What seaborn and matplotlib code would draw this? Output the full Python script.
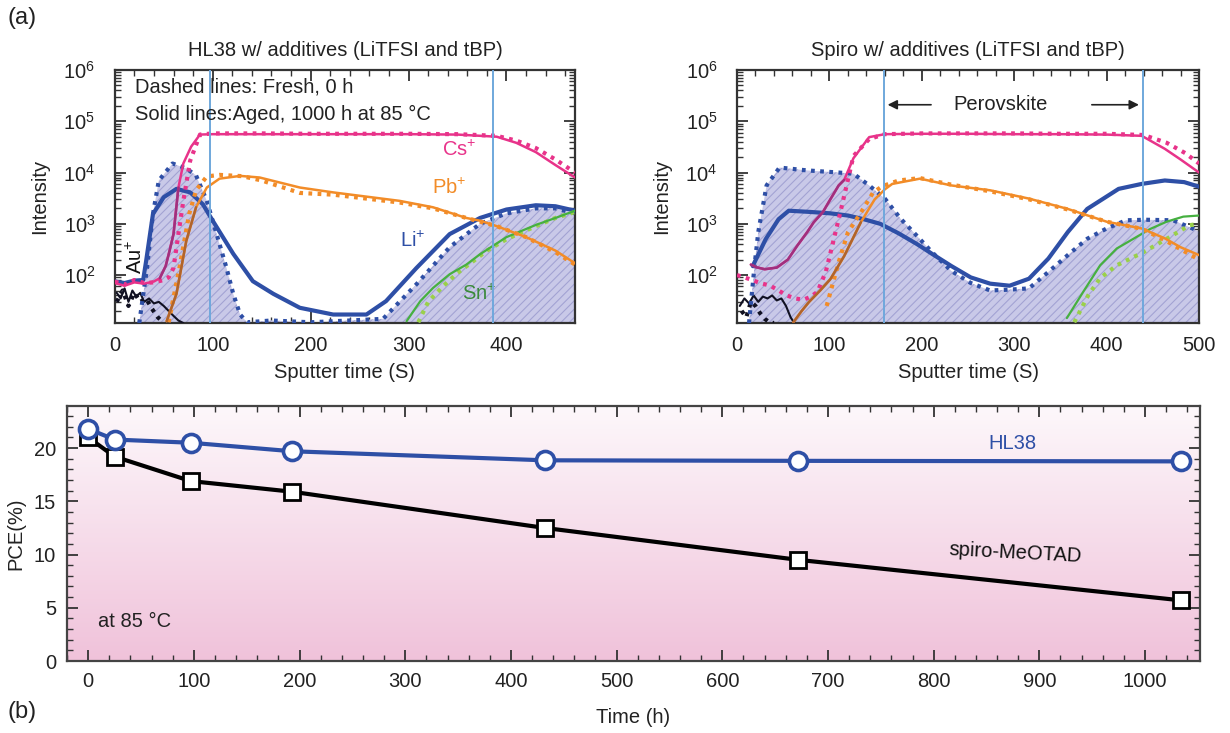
import numpy as np
import pandas as pd
import matplotlib
matplotlib.use('Agg')
import matplotlib.pyplot as plt
import seaborn as sns
from matplotlib.ticker import LogLocator, MultipleLocator, NullFormatter
from matplotlib.colors import LinearSegmentedColormap

# ---------------- data: HL38 panel (sputter time s, intensity) ----------------
hl_cs_aged_t = [0, 10, 20, 30, 40, 46, 52, 56, 60, 65, 70, 78, 87, 100, 150, 200, 250, 300, 350, 390, 410, 430, 450, 470]
hl_cs_aged_i = [70, 62, 72, 68, 75, 87, 150, 300, 630, 5100, 15000, 32000, 55000, 56000, 56000, 56000, 56000, 56000, 55000, 50000, 38000, 25000, 14000, 8000]
hl_cs_fresh_t = [0, 10, 20, 30, 40, 50, 55, 60, 65, 70, 77, 87, 100, 150, 200, 250, 300, 350, 390, 410, 430, 450, 470]
hl_cs_fresh_i = [75, 65, 80, 70, 72, 80, 90, 137, 630, 2800, 17000, 55000, 58000, 58000, 57000, 57000, 57000, 56000, 52000, 42000, 30000, 18000, 10000]
hl_pb_aged_t = [53, 63, 73, 83, 94, 107, 128, 148, 189, 223, 291, 325, 359, 373, 390, 420, 450, 470]
hl_pb_aged_i = [12.6, 43, 460, 2100, 5100, 7600, 8600, 8000, 5100, 4100, 2800, 2100, 1300, 1150, 900, 550, 300, 170]
hl_pb_fresh_t = [55, 66, 76, 83, 94, 107, 130, 150, 189, 223, 291, 325, 359, 390, 420, 450, 470]
hl_pb_fresh_i = [12, 137, 1550, 4500, 8400, 9000, 8500, 7000, 4000, 3700, 2600, 2000, 1300, 900, 550, 280, 160]
hl_li_aged_t = [0, 10, 20, 29, 32, 39, 50, 63, 77, 90, 100, 121, 141, 162, 189, 223, 257, 277, 308, 342, 373, 400, 430, 450, 470]
hl_li_aged_i = [75, 70, 78, 80, 186, 1550, 3300, 4800, 4100, 2400, 1150, 260, 76, 43, 23, 17, 17, 31, 137, 630, 1300, 1900, 2300, 2200, 1800]
hl_li_fresh_t = [25, 33, 39, 45, 59, 73, 83, 94, 104, 114, 121, 128, 135, 160, 200, 240, 274, 308, 342, 373, 400, 430, 450, 470]
hl_li_fresh_i = [11.6, 140, 1550, 7000, 15000, 12000, 8800, 2800, 630, 140, 43, 17, 12, 13, 12, 13, 14, 66, 350, 1000, 1600, 2000, 2000, 1600]
hl_sn_aged_t = [298, 312, 325, 342, 359, 373, 400, 430, 450, 470]
hl_sn_aged_i = [12.6, 31, 56, 104, 160, 255, 550, 950, 1300, 1800]
hl_sn_fresh_t = [310, 320, 335, 350, 365, 380, 400, 430, 450, 470]
hl_sn_fresh_i = [12, 30, 60, 110, 180, 300, 500, 900, 1300, 1700]
hl_au_aged_t = [2, 6, 10, 14, 18, 22, 26, 30, 35, 40, 45, 50, 55, 60, 65, 70]
hl_au_aged_i = [45, 35, 55, 30, 50, 38, 45, 30, 35, 28, 30, 25, 20, 16, 13, 11.6]
hl_au_fresh_t = [2, 8, 14, 20, 26, 32, 38, 44, 50]
hl_au_fresh_i = [30, 50, 25, 45, 30, 35, 22, 15, 11.6]
hl_vlines = [97, 386]

# ---------------- data: Spiro panel ----------------
sp_cs_aged_t = [15, 21, 30, 43, 55, 65, 76, 83, 93, 101, 110, 116, 126, 143, 160, 200, 250, 300, 350, 400, 438, 463, 480, 500]
sp_cs_aged_i = [160, 142, 130, 140, 200, 370, 690, 1070, 1700, 3000, 5600, 7200, 19000, 49000, 56000, 57000, 57000, 56000, 56000, 55000, 52000, 29000, 18000, 10000]
sp_cs_fresh_t = [0, 14, 25, 36, 45, 54, 63, 72, 80, 87, 96, 103, 110, 118, 126, 143, 160, 200, 250, 300, 350, 400, 440, 465, 485, 500]
sp_cs_fresh_i = [100, 83, 70, 62, 50, 40, 35, 33, 38, 47, 115, 370, 1230, 5000, 21000, 45000, 56000, 58000, 58000, 58000, 57000, 57000, 54000, 38000, 24000, 15000]
sp_pb_aged_t = [61, 70, 78, 90, 101, 116, 134, 149, 160, 168, 198, 232, 274, 316, 358, 400, 438, 463, 480, 500]
sp_pb_aged_i = [12, 20, 30, 50, 83, 235, 1070, 3000, 4700, 6000, 7600, 5600, 4500, 3100, 1950, 1100, 810, 520, 350, 245]
sp_pb_fresh_t = [97, 110, 120, 134, 147, 157, 175, 198, 232, 274, 316, 358, 400, 438, 463, 480, 500]
sp_pb_fresh_i = [25, 178, 680, 1650, 4000, 5400, 7000, 7800, 5800, 4300, 3000, 1900, 1100, 800, 480, 320, 200]
sp_li_aged_t = [17, 31, 45, 56, 80, 101, 120, 137, 155, 175, 195, 211, 232, 253, 274, 295, 316, 337, 358, 379, 413, 438, 463, 484, 500]
sp_li_aged_i = [150, 500, 1230, 1800, 1700, 1600, 1450, 1230, 1000, 650, 400, 260, 150, 90, 68, 62, 85, 210, 690, 1950, 4800, 6000, 7000, 6500, 5300]
sp_li_fresh_t = [13, 19, 23, 32, 46, 76, 110, 126, 143, 160, 177, 194, 211, 232, 253, 274, 295, 316, 337, 358, 379, 400, 421, 442, 472, 493, 500]
sp_li_fresh_i = [11.6, 155, 690, 5600, 12500, 11000, 10000, 9500, 5600, 3100, 1260, 600, 280, 120, 70, 50, 52, 55, 115, 245, 510, 810, 1170, 1200, 1170, 810, 700]
sp_sn_aged_t = [357, 375, 393, 411, 429, 447, 465, 483, 500]
sp_sn_aged_i = [14.5, 48, 155, 330, 510, 790, 1100, 1380, 1450]
sp_sn_fresh_t = [365, 380, 393, 411, 440, 465, 490, 500]
sp_sn_fresh_i = [12, 40, 87, 155, 280, 510, 940, 1000]
sp_au_aged_t = [3, 8, 13, 18, 23, 28, 33, 38, 43, 48, 53, 58, 62]
sp_au_aged_i = [25, 35, 28, 40, 30, 38, 35, 40, 32, 35, 25, 15, 11.6]
sp_au_fresh_t = [5, 10, 15, 20, 25, 30, 35, 40]
sp_au_fresh_i = [20, 15, 30, 25, 18, 14, 12, 11.6]
sp_vlines = [159, 439]

# ---------------- data: PCE vs time ----------------
hours = [0, 25, 97, 193, 432, 672, 1034]
pce_hl38 = [21.8, 20.8, 20.5, 19.7, 18.85, 18.8, 18.75]
pce_spiro = [21.0, 19.2, 16.9, 15.9, 12.5, 9.5, 5.7]

# ---------------- style ----------------
sns.set_theme(style='ticks')
plt.rcParams['font.family'] = ['Liberation Sans', 'DejaVu Sans']
plt.rcParams['mathtext.fontset'] = 'custom'
plt.rcParams['mathtext.rm'] = 'Liberation Sans'
plt.rcParams['mathtext.it'] = 'Liberation Sans:italic'
plt.rcParams['hatch.color'] = '#a3a3d3'
plt.rcParams['hatch.linewidth'] = 0.8

C_CS = '#e8338a'
C_PURPLE = '#a0307e'
C_PB = '#f28c28'
C_BROWN = '#b0642c'
C_LI = '#2e4fa6'
C_SN = '#46b040'
C_SN_F = '#9ad04a'
C_SN_TXT = '#3a8a3a'
C_AU = '#111122'
C_VL = '#6fa8dc'
FS = 14.5

fig = plt.figure(figsize=(12.3, 7.33), dpi=100)
axL = fig.add_axes([0.0933, 0.5593, 0.3742, 0.3452])
axR = fig.add_axes([0.5992, 0.5593, 0.3756, 0.3452])
axB = fig.add_axes([0.0545, 0.0982, 0.9211, 0.3479])


def ln(ax, t, i, color, fresh=False, lw=1.8, z=3):
    if fresh:
        sns.lineplot(x=t, y=i, ax=ax, color=color, lw=3.0, linestyle=(0, (0.9, 1.3)),
                     dash_capstyle='butt', sort=False, estimator=None, legend=False, zorder=z)
    else:
        sns.lineplot(x=t, y=i, ax=ax, color=color, lw=lw, sort=False, estimator=None,
                     legend=False, zorder=z)


def sims_panel(ax, d, vlines, xmax, title):
    ax.set_yscale('log')
    ymin = 11.6
    # fresh Li fill
    ax.fill_between(d['li_f'][0], ymin, d['li_f'][1], facecolor='#c9c9e8', edgecolor='#a3a3d3',
                    hatch='////', linewidth=0, zorder=1)
    ln(ax, *d['au_f'], C_AU, fresh=True)
    ln(ax, *d['au_a'], C_AU, lw=1.5)
    ln(ax, *d['li_f'], C_LI, fresh=True)
    ln(ax, *d['li_a'], C_LI, lw=3.0)
    ln(ax, *d['sn_f'], C_SN_F, fresh=True)
    ln(ax, *d['sn_a'], C_SN, lw=1.6)
    ln(ax, *d['pb_f'], C_PB, fresh=True)
    ln(ax, *d['pb_a'], C_PB, lw=1.8)
    n = d['pb_brown']
    ln(ax, d['pb_a'][0][:n], d['pb_a'][1][:n], C_BROWN, lw=1.8, z=4)
    ln(ax, *d['cs_f'], C_CS, fresh=True)
    ln(ax, *d['cs_a'], C_CS, lw=1.8)
    a, b = d['cs_purple']
    ln(ax, d['cs_a'][0][a:b], d['cs_a'][1][a:b], C_PURPLE, lw=1.8, z=4)
    for v in vlines:
        ax.axvline(v, color=C_VL, lw=1.4, zorder=5)
    ax.set_xlim(0, xmax)
    ax.set_ylim(ymin, 1e6)
    ax.yaxis.set_major_locator(LogLocator(base=10, numticks=10))
    ax.yaxis.set_minor_locator(LogLocator(base=10, subs=np.arange(2, 10), numticks=20))
    ax.yaxis.set_minor_formatter(NullFormatter())
    ax.xaxis.set_major_locator(MultipleLocator(100))
    ax.xaxis.set_minor_locator(MultipleLocator(20))
    ax.tick_params(which='both', direction='in', top=True, right=True, color='#333333',
                   labelsize=FS, labelcolor='#222222')
    ax.tick_params(which='major', length=8, width=1.3, pad=9)
    ax.tick_params(which='minor', length=4, width=1.0)
    ax.tick_params(axis='y', which='major', pad=14)
    for s in ax.spines.values():
        s.set_linewidth(1.6)
        s.set_color('#333333')
    ax.set_xlabel('Sputter time (S)', fontsize=FS, color='#222222', labelpad=6)
    ax.set_ylabel('Intensity', fontsize=FS, color='#222222', labelpad=10)
    ax.set_title(title, fontsize=FS, color='#222222', pad=10)


hl = dict(cs_a=(hl_cs_aged_t, hl_cs_aged_i), cs_f=(hl_cs_fresh_t, hl_cs_fresh_i),
          pb_a=(hl_pb_aged_t, hl_pb_aged_i), pb_f=(hl_pb_fresh_t, hl_pb_fresh_i),
          li_a=(hl_li_aged_t, hl_li_aged_i), li_f=(hl_li_fresh_t, hl_li_fresh_i),
          sn_a=(hl_sn_aged_t, hl_sn_aged_i), sn_f=(hl_sn_fresh_t, hl_sn_fresh_i),
          au_a=(hl_au_aged_t, hl_au_aged_i), au_f=(hl_au_fresh_t, hl_au_fresh_i),
          pb_brown=4, cs_purple=(5, 10))
sp = dict(cs_a=(sp_cs_aged_t, sp_cs_aged_i), cs_f=(sp_cs_fresh_t, sp_cs_fresh_i),
          pb_a=(sp_pb_aged_t, sp_pb_aged_i), pb_f=(sp_pb_fresh_t, sp_pb_fresh_i),
          li_a=(sp_li_aged_t, sp_li_aged_i), li_f=(sp_li_fresh_t, sp_li_fresh_i),
          sn_a=(sp_sn_aged_t, sp_sn_aged_i), sn_f=(sp_sn_fresh_t, sp_sn_fresh_i),
          au_a=(sp_au_aged_t, sp_au_aged_i), au_f=(sp_au_fresh_t, sp_au_fresh_i),
          pb_brown=7, cs_purple=(0, 12))

sims_panel(axL, hl, hl_vlines, 470, 'HL38 w/ additives (LiTFSI and tBP)')
sims_panel(axR, sp, sp_vlines, 500, 'Spiro w/ additives (LiTFSI and tBP)')

# annotations left
axL.text(21, 4.7e5, 'Dashed lines: Fresh, 0 h', fontsize=FS, va='center', color='#222222', zorder=6)
axL.text(21, 1.35e5, 'Solid lines:Aged, 1000 h at 85 °C', fontsize=FS, va='center', color='#222222', zorder=6)
axL.text(352, 2.7e4, 'Cs$^{+}$', color=C_CS, fontsize=FS, ha='center', va='center')
axL.text(342, 4900, 'Pb$^{+}$', color=C_PB, fontsize=FS, ha='center', va='center')
axL.text(304, 460, 'Li$^{+}$', color=C_LI, fontsize=FS, ha='center', va='center')
axL.text(372, 43, 'Sn$^{+}$', color=C_SN_TXT, fontsize=FS, ha='center', va='center')
axL.text(22, 230, 'Au$^{+}$', color='#111111', fontsize=FS, rotation=90, ha='center', va='center')

# annotations right
axR.text(285, 2.1e5, 'Perovskite', fontsize=FS, ha='center', va='center', color='#222222')
axR.annotate('', xy=(160, 2.1e5), xytext=(213, 2.1e5),
             arrowprops=dict(arrowstyle='-|>', color='#222222', lw=1.2, mutation_scale=14))
axR.annotate('', xy=(438, 2.1e5), xytext=(381, 2.1e5),
             arrowprops=dict(arrowstyle='-|>', color='#222222', lw=1.2, mutation_scale=14))

# ---------------- bottom panel ----------------
grad = np.linspace(0, 1, 256).reshape(-1, 1)
cmap = LinearSegmentedColormap.from_list('pk', ['#fdf8fb', '#f0c2da'])
axB.imshow(grad, extent=[0, 1, 0, 1], transform=axB.transAxes, aspect='auto', cmap=cmap,
           origin='upper', zorder=0)
df = pd.DataFrame({'hours': hours, 'HL38': pce_hl38, 'spiro': pce_spiro})
sns.lineplot(data=df, x='hours', y='spiro', ax=axB, color='black', lw=3, marker='s',
             markersize=12, markerfacecolor='white', markeredgecolor='black',
             markeredgewidth=2.0, zorder=3)
sns.lineplot(data=df, x='hours', y='HL38', ax=axB, color=C_LI, lw=3, marker='o',
             markersize=13, markerfacecolor='white', markeredgecolor=C_LI,
             markeredgewidth=2.6, zorder=4)
axB.set_xlim(-20, 1052)
axB.set_ylim(0, 23.95)
axB.xaxis.set_major_locator(MultipleLocator(100))
axB.xaxis.set_minor_locator(MultipleLocator(20))
axB.yaxis.set_major_locator(MultipleLocator(5))
axB.yaxis.set_minor_locator(MultipleLocator(1))
axB.tick_params(which='both', direction='in', top=True, right=True, color='#333333',
                labelsize=FS, labelcolor='#222222')
axB.tick_params(which='major', length=8, width=1.3, pad=8)
axB.tick_params(which='minor', length=4, width=1.0)
for s in axB.spines.values():
    s.set_linewidth(1.6)
    s.set_color('#444444')
axB.set_xlabel('Time (h)', fontsize=FS, color='#222222', labelpad=12)
axB.set_ylabel('PCE(%)', fontsize=FS, color='#222222', labelpad=6)
axB.text(875, 20.4, 'HL38', color=C_LI, fontsize=FS, ha='center', va='center')
axB.text(877, 10.1, 'spiro-MeOTAD', color='#111111', fontsize=FS, ha='center', va='center', rotation=-3)
axB.text(44, 3.7, 'at 85 °C', color='#222222', fontsize=FS, ha='center', va='center')

fig.text(22 / 1230, 1 - 18 / 733, '(a)', fontsize=17, ha='center', va='center', color='#222222')
fig.text(22 / 1230, 1 - 712 / 733, '(b)', fontsize=17, ha='center', va='center', color='#222222')

fig.savefig('out.png', dpi=100)
